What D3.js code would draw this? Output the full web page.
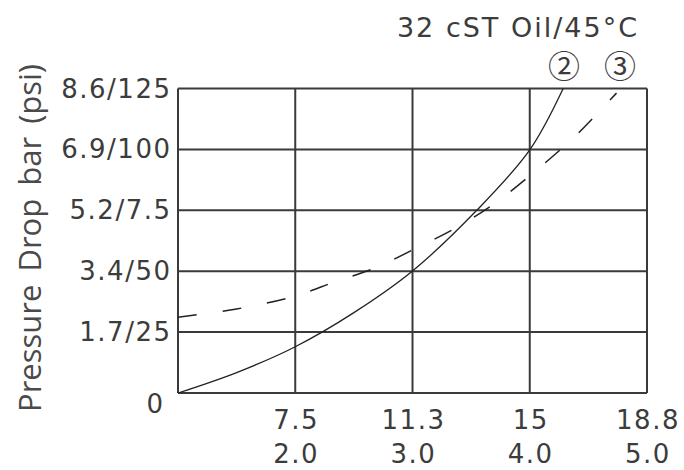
<!DOCTYPE html>
<html><head><meta charset="utf-8">
<script src="https://cdn.jsdelivr.net/npm/d3@7"></script>
<style>html,body{margin:0;padding:0;background:#fff;}</style>
</head><body>
<svg id="c" width="684" height="470"></svg>
<script>
// Data (flow in gpm, pressure in psi)
const xTicks = [2, 3, 4, 5];
const xLabelsLpm = ["7.5", "11.3", "15", "18.8"];
const xLabelsGpm = ["2.0", "3.0", "4.0", "5.0"];
const yTicks = [0, 25, 50, 75, 100, 125];
const yLabels = ["0", "1.7/25", "3.4/50", "5.2/7.5", "6.9/100", "8.6/125"];
const curve2 = [[1.0,0],[1.5,8.4],[2.0,19.0],[2.5,33.0],[3.0,50.1],[3.55,75.1],[4.0,99.8],[4.285,125]];
const curve3 = [[1.0,31.1],[1.5,34.5],[2.0,39.8],[2.33,45.5],[2.68,51.3],[3.0,58.7],[3.415,69.0],[3.75,79.6],[4.07,92.0],[4.39,105.5],[4.66,119.0],[4.74,123.1]];
const title = "32 cST Oil/45°C";
const yTitle = "Pressure Drop bar (psi)";

const svg = d3.select("#c");
const L = 178, R = 647, T = 88.5, B = 393;
const x = d3.scaleLinear().domain([1, 5]).range([L, R]);
const y = d3.scaleLinear().domain([0, 125]).range([B, T]);
const ink = "#3a3a3a", txt = "#3c3c3c";

// grid
svg.append("g").selectAll("line").data(xTicks).join("line")
  .attr("x1", d => x(d)).attr("x2", d => x(d)).attr("y1", T).attr("y2", B)
  .attr("stroke", ink).attr("stroke-width", 2);
svg.append("g").selectAll("line").data(yTicks).join("line")
  .attr("x1", L).attr("x2", R).attr("y1", d => y(d)).attr("y2", d => y(d))
  .attr("stroke", ink).attr("stroke-width", 2);
svg.append("line").attr("x1", L).attr("x2", L).attr("y1", T).attr("y2", B)
  .attr("stroke", ink).attr("stroke-width", 2);

// curves
const line = d3.line().x(d => x(d[0])).y(d => y(d[1])).curve(d3.curveCatmullRom.alpha(0.5));
svg.append("path").attr("d", line(curve2)).attr("fill", "none")
  .attr("stroke", "#222").attr("stroke-width", 1.3);
svg.append("path").attr("d", line(curve3)).attr("fill", "none")
  .attr("stroke", "#222").attr("stroke-width", 1.5).attr("stroke-dasharray", "19,26");

const font = "DejaVu Sans, Verdana, sans-serif";
// y tick labels
svg.append("g").selectAll("text").data(yTicks).join("text")
  .attr("x", (d,i) => i === 0 ? 164.5 : 171.5)
  .attr("y", (d,i) => i === 0 ? 413 : y(d) + 9)
  .attr("text-anchor", "end").attr("font-family", font).attr("font-size", 26)
  .attr("letter-spacing", 1.5).attr("fill", txt).text((d,i) => yLabels[i]);
// x tick labels
svg.append("g").selectAll("text").data(xTicks).join("text")
  .attr("x", d => x(d) + 1).attr("y", 429).attr("text-anchor", "middle")
  .attr("font-family", font).attr("font-size", 26).attr("letter-spacing", 1.5).attr("fill", txt)
  .text((d,i) => xLabelsLpm[i]);
svg.append("g").selectAll("text").data(xTicks).join("text")
  .attr("x", d => x(d) + 1).attr("y", 463).attr("text-anchor", "middle")
  .attr("font-family", font).attr("font-size", 26).attr("letter-spacing", 1.5).attr("fill", txt)
  .text((d,i) => xLabelsGpm[i]);

// title
svg.append("text").attr("x", 639).attr("y", 37).attr("text-anchor", "end")
  .attr("font-family", font).attr("font-size", 27).attr("letter-spacing", 2).attr("fill", txt).text(title);
// curve labels
svg.append("text").attr("x", 564).attr("y", 78).attr("text-anchor", "middle")
  .attr("font-family", "Noto Sans CJK JP").attr("font-size", 32).attr("fill", txt).text("②");
svg.append("text").attr("x", 620).attr("y", 78).attr("text-anchor", "middle")
  .attr("font-family", "Noto Sans CJK JP").attr("font-size", 32).attr("fill", txt).text("③");

// y axis title
svg.append("text").attr("transform", "translate(41,238) rotate(-90)")
  .attr("text-anchor", "middle").attr("font-family", "Open Sans, sans-serif")
  .attr("font-size", 31).attr("word-spacing", 5)
  .attr("fill", "#4a4a4a").text(yTitle);
</script>
</body></html>
